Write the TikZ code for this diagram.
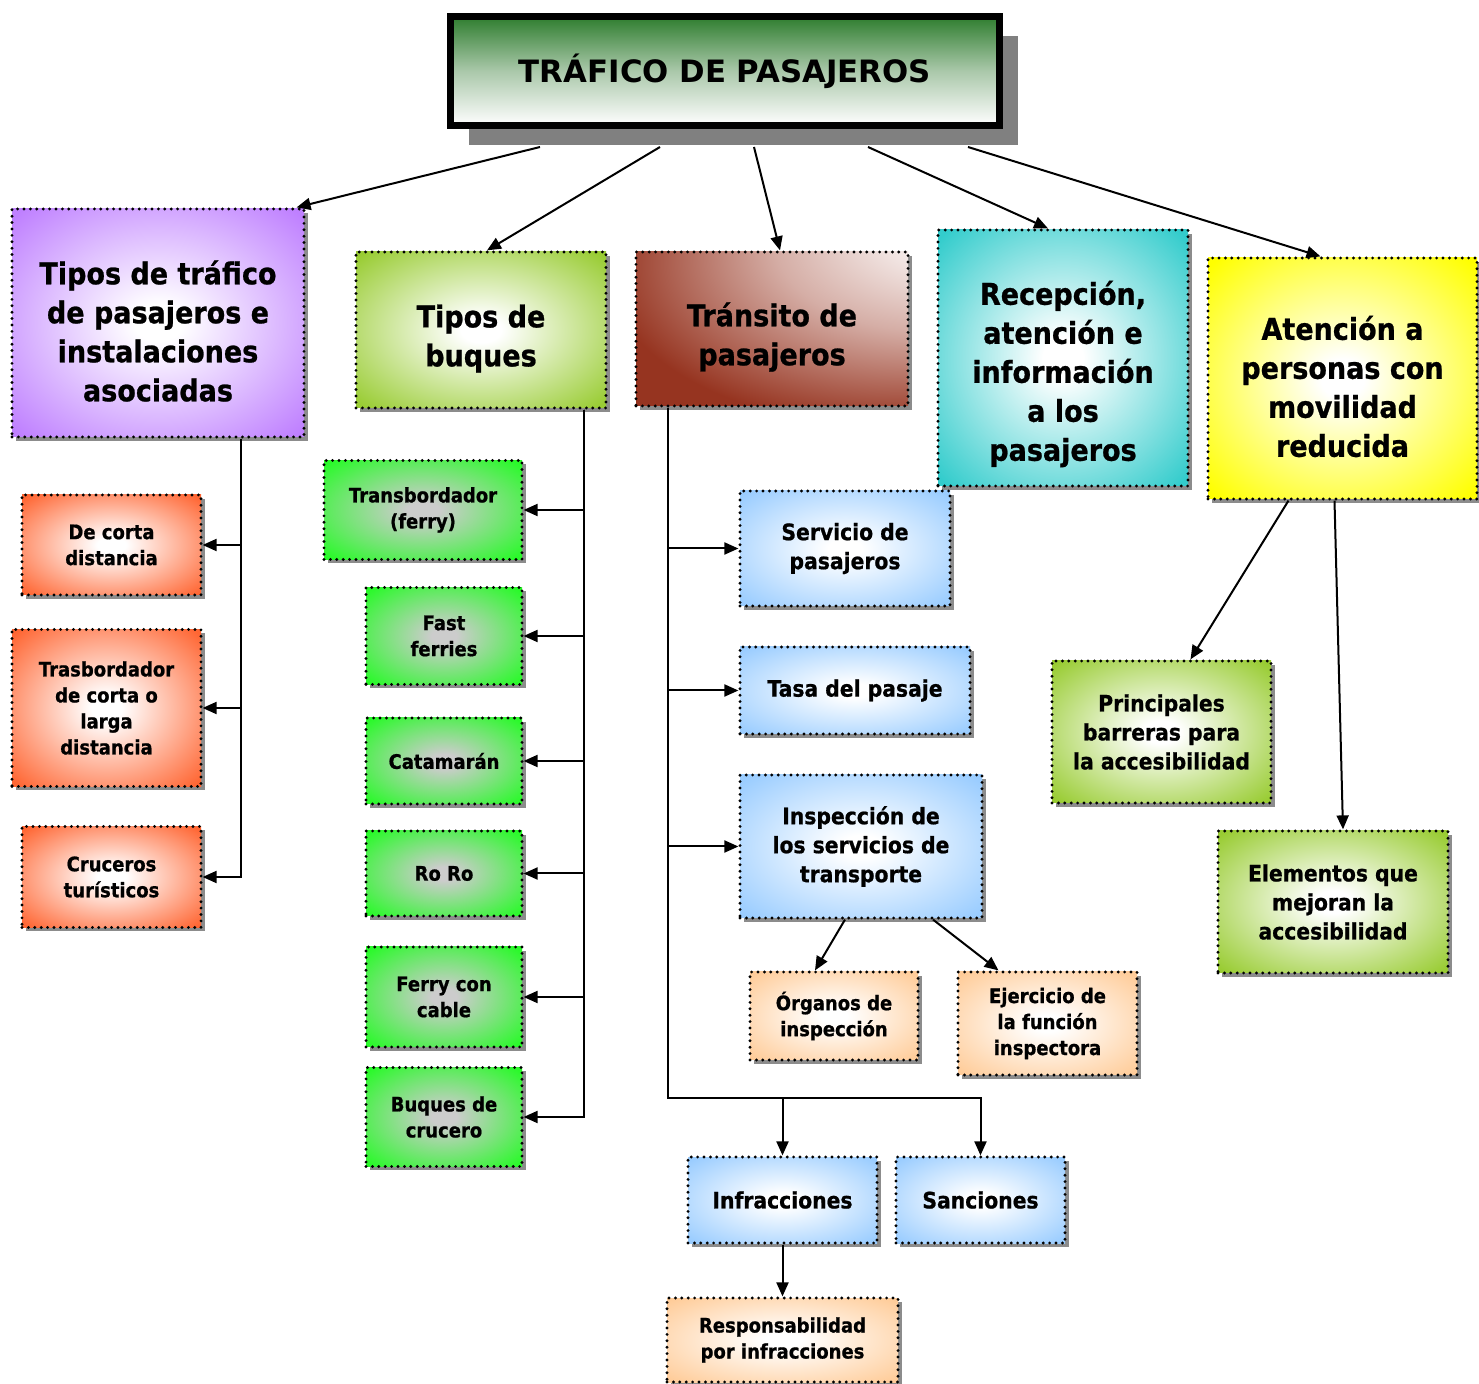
\documentclass[tikz,border=0pt]{standalone}
\usepackage{fontspec}
\setmainfont[FakeStretch=0.9,BoldFeatures={FakeBold=0.8}]{DejaVu Sans}
\newfontfamily\titlefont{DejaVu Sans}
\usepackage{tikz}
\usetikzlibrary{arrows.meta,shadows}

\definecolor{lila}{RGB}{191,128,255}
\definecolor{oliva}{RGB}{153,204,51}
\definecolor{granate}{RGB}{150,52,32}
\definecolor{turquesa}{RGB}{51,204,204}
\definecolor{amarillo}{RGB}{255,255,0}
\definecolor{naranja}{RGB}{255,102,51}
\definecolor{verde}{RGB}{40,250,40}
\definecolor{celeste}{RGB}{153,204,255}
\definecolor{melocoton}{RGB}{255,204,153}
\definecolor{titleverde}{RGB}{46,125,46}
\definecolor{titlemedio}{RGB}{170,200,170}
\colorlet{glowcol}{white}
\colorlet{glowin}{white}
\pgfdeclareradialshading[glowin,glowcol]{glow}{\pgfpoint{0bp}{0bp}}{color(0bp)=(glowin); color(4bp)=(glowin); color(34bp)=(glowcol); color(100bp)=(glowcol)}
% white spot in the upper right corner
\pgfdeclareradialshading{esquina}{\pgfpoint{40bp}{38bp}}{color(0bp)=(white); color(8bp)=(white); color(28bp)=(granate!40!white); color(50bp)=(granate); color(100bp)=(granate)}

\begin{document}
\begin{tikzpicture}[x=0.5pt, y=-0.5pt,
  box/.style={draw=black, line width=1.6pt, dash pattern=on 0pt off 3.2pt,
    line cap=round, inner sep=0pt, align=center,
    font=\bfseries\fontsize{10}{13}\selectfont,
    drop shadow={shadow xshift=1.8pt, shadow yshift=-1.8pt, fill=black!45, opacity=1}},
  glow/.style={shade, shading=glow, /utils/exec={\colorlet{glowin}{white}\colorlet{glowcol}{#1}}},
  grisglow/.style={shade, shading=glow, /utils/exec={\colorlet{glowin}{black!20}\colorlet{glowcol}{#1}}},
  big/.style={font=\bfseries\fontsize{15}{19.5}\selectfont},
  mid/.style={font=\bfseries\fontsize{11.3}{14.5}\selectfont},
  titlebox/.style={draw=black, line width=3.5pt, inner sep=0pt,
    minimum width=274.5pt, minimum height=54.5pt,
    top color=titleverde, bottom color=white, middle color=titlemedio,
    font=\titlefont\bfseries\fontsize{15.4}{18}\selectfont,
    drop shadow={shadow xshift=9pt, shadow yshift=-10pt, fill=black!50, opacity=1}},
  arr/.style={-{Triangle[length=7pt,width=6pt]}, line width=1pt}]

\useasboundingbox (0,0) rectangle (1479,1384);

\node[titlebox] (title) at (725,71) {TRÁFICO DE PASAJEROS};

% first level (\rule pushes the lines a bit down)
\node[box, big, glow=lila, minimum width=146pt, minimum height=114pt] (tipos) at (158,323)
  {\rule{0pt}{20pt}Tipos de tráfico\\de pasajeros e\\instalaciones\\asociadas};
\node[box, big, glow=oliva, minimum width=125pt, minimum height=78pt] (buques) at (481,330)
  {\rule{0pt}{20pt}Tipos de\\buques};
\node[box, big, shade, shading=esquina, minimum width=136pt, minimum height=77pt] (transito) at (772,329)
  {\rule{0pt}{20pt}Tránsito de\\pasajeros};
\node[box, big, glow=turquesa, minimum width=125pt, minimum height=128pt] (recepcion) at (1063,358)
  {\rule{0pt}{28pt}Recepción,\\atención e\\información\\a los\\pasajeros};
\node[box, big, glow=amarillo, minimum width=134.5pt, minimum height=120.5pt] (atencion) at (1342.5,378.5)
  {\rule{0pt}{20pt}Atención a\\personas con\\movilidad\\reducida};

% tipos de trafico
\node[box, glow=naranja, minimum width=89.5pt, minimum height=50pt] (corta) at (111.5,545) {De corta\\distancia};
\node[box, glow=naranja, minimum width=94.5pt, minimum height=78.5pt] (trasb) at (106.5,708) {Trasbordador\\de corta o\\larga\\distancia};
\node[box, glow=naranja, minimum width=89.5pt, minimum height=50.5pt] (cruceros) at (111.5,877) {Cruceros\\turísticos};

% buques
\node[box, grisglow=verde, minimum width=99pt, minimum height=49.5pt] (ferry) at (423,510) {Transbordador\\(ferry)};
\node[box, grisglow=verde, minimum width=78pt, minimum height=48.5pt] (fast) at (444,636) {Fast\\ferries};
\node[box, grisglow=verde, minimum width=78pt, minimum height=43pt] (catamaran) at (444,761) {Catamarán};
\node[box, grisglow=verde, minimum width=78pt, minimum height=42.5pt] (roro) at (444,873.5) {Ro Ro};
\node[box, grisglow=verde, minimum width=78pt, minimum height=50pt] (cable) at (444,997) {Ferry con\\cable};
\node[box, grisglow=verde, minimum width=78pt, minimum height=49.5pt] (crucero) at (444,1117) {Buques de\\crucero};

% transito
\node[box, mid, glow=celeste, minimum width=105pt, minimum height=57.5pt] (servicio) at (845,548.5) {Servicio de\\pasajeros};
\node[box, mid, glow=celeste, minimum width=115pt, minimum height=43.5pt] (tasa) at (855,690.5) {Tasa del pasaje};
\node[box, mid, glow=celeste, minimum width=121pt, minimum height=71.5pt] (inspeccion) at (861,846.5) {Inspección de\\los servicios de\\transporte};
\node[box, glow=melocoton, minimum width=84pt, minimum height=44pt] (organos) at (834,1016) {Órganos de\\inspección};
\node[box, glow=melocoton, minimum width=89.5pt, minimum height=51.5pt] (ejercicio) at (1047.5,1023.5) {Ejercicio de\\la función\\inspectora};
\node[box, mid, glow=celeste, minimum width=94.5pt, minimum height=43pt] (infracciones) at (782.5,1200) {Infracciones};
\node[box, mid, glow=celeste, minimum width=84.5pt, minimum height=43pt] (sanciones) at (980.5,1200) {Sanciones};
\node[box, glow=melocoton, minimum width=115.5pt, minimum height=42pt] (responsabilidad) at (782.5,1340) {Responsabilidad\\por infracciones};

% accesibilidad
\node[box, mid, glow=oliva, minimum width=109.5pt, minimum height=71pt] (barreras) at (1161.5,732) {Principales\\barreras para\\la accesibilidad};
\node[box, mid, glow=oliva, minimum width=115pt, minimum height=71pt] (elementos) at (1333,902) {Elementos que\\mejoran la\\accesibilidad};

% connectors
\draw[arr] ([xshift=-92.5pt,yshift=-9pt]title.south) -- ([xshift=-4.5pt]tipos.north east);
\draw[arr] ([xshift=-32.5pt,yshift=-9pt]title.south) -- ([xshift=3pt]buques.north);
\draw[arr] ([xshift=14.5pt,yshift=-9pt]title.south) -- ([xshift=4pt]transito.north);
\draw[arr] ([xshift=71.5pt,yshift=-9pt]title.south) -- ([xshift=-7.5pt]recepcion.north);
\draw[arr] ([xshift=121.5pt,yshift=-9pt]title.south) -- ([xshift=-11pt]atencion.north);

\foreach \n in {corta,trasb,cruceros}
  \draw[arr] ([xshift=41.5pt]tipos.south) |- (\n.east);
\foreach \n in {ferry,fast,catamaran,roro,cable,crucero}
  \draw[arr] ([xshift=51.5pt]buques.south) |- (\n.east);
\foreach \n in {servicio,tasa,inspeccion}
  \draw[arr] ([xshift=-52pt]transito.south) |- (\n.west);
\draw[arr] ([xshift=-52pt]transito.south) |- ([yshift=28.5pt]sanciones.north) -- (sanciones.north);
\draw[arr] ([yshift=28.5pt]infracciones.north) -- (infracciones.north);
\draw[arr] ([xshift=-8pt]inspeccion.south) -- ([xshift=-9.5pt]organos.north);
\draw[arr] ([xshift=36pt]inspeccion.south) -- ([xshift=-24.5pt]ejercicio.north);
\draw[arr] (infracciones.south) -- (responsabilidad.north);
\draw[arr] ([xshift=-27pt]atencion.south) -- ([xshift=14.5pt]barreras.north);
\draw[arr] ([xshift=-4pt]atencion.south) -- ([xshift=5pt]elementos.north);
\end{tikzpicture}
\end{document}
